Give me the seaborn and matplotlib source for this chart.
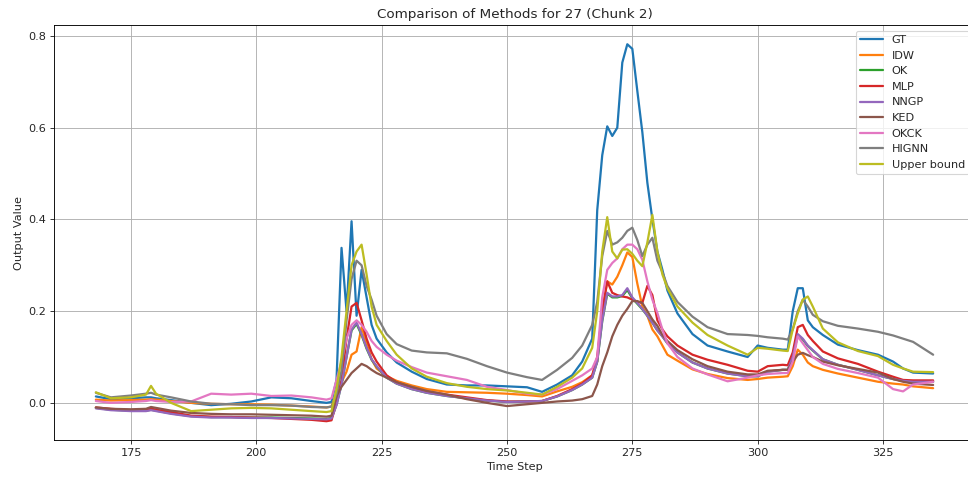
import numpy as np
import pandas as pd
import matplotlib
matplotlib.use("Agg")
import matplotlib.pyplot as plt
import seaborn as sns

time_steps = [168, 171, 175, 178, 179, 180, 183, 187, 191, 195, 199, 203, 207, 211, 214,
              215, 216, 217, 218, 219, 220, 221, 222, 223, 224, 226, 228, 231, 234, 238,
              242, 246, 250, 254, 257, 260, 263, 265, 267,
              268, 269, 270, 271, 272, 273, 274, 275, 276, 277, 278, 279, 280, 281, 282,
              284, 287, 290, 294, 298,
              300, 302, 305, 306, 307, 308, 309, 310, 311, 313, 316, 320, 324, 327, 329, 331, 335]

gt = [0.014, 0.008, 0.010, 0.012, 0.012, 0.010, 0.006, 0.000, -0.005, -0.002, 0.003, 0.012, 0.010, 0.004, 0.000,
      0.002, 0.050, 0.338, 0.200, 0.396, 0.190, 0.290, 0.230, 0.170, 0.140, 0.110, 0.088, 0.068, 0.052, 0.040,
      0.038, 0.038, 0.036, 0.034, 0.024, 0.040, 0.060, 0.090, 0.140,
      0.420, 0.540, 0.603, 0.582, 0.600, 0.742, 0.782, 0.772, 0.680, 0.590, 0.480, 0.400, 0.330, 0.290, 0.245,
      0.195, 0.150, 0.125, 0.112, 0.100,
      0.125, 0.120, 0.116, 0.116, 0.200, 0.250, 0.250, 0.180, 0.165, 0.148, 0.127, 0.115, 0.105, 0.090, 0.075, 0.066, 0.064]

idw = [0.007, 0.005, 0.006, 0.007, 0.008, 0.007, 0.004, 0.000, -0.002, -0.003, -0.003, -0.004, -0.006, -0.008, -0.010,
       -0.008, 0.020, 0.045, 0.068, 0.105, 0.112, 0.165, 0.130, 0.095, 0.075, 0.058, 0.048, 0.038, 0.030, 0.024,
       0.023, 0.022, 0.020, 0.017, 0.014, 0.025, 0.035, 0.045, 0.060,
       0.090, 0.200, 0.265, 0.258, 0.275, 0.300, 0.328, 0.318, 0.260, 0.210, 0.190, 0.160, 0.145, 0.125, 0.105,
       0.092, 0.073, 0.063, 0.054, 0.050,
       0.052, 0.055, 0.057, 0.058, 0.080, 0.116, 0.105, 0.088, 0.080, 0.072, 0.064, 0.055, 0.046, 0.042, 0.040, 0.036, 0.032]

ok = [-0.011, -0.015, -0.017, -0.017, -0.015, -0.017, -0.023, -0.029, -0.031, -0.031, -0.032, -0.032, -0.033, -0.034, -0.035,
      -0.033, -0.004, 0.040, 0.100, 0.158, 0.172, 0.148, 0.118, 0.094, 0.079, 0.055, 0.042, 0.030, 0.022, 0.015,
      0.010, 0.005, 0.002, 0.003, 0.004, 0.014, 0.028, 0.040, 0.055,
      0.090, 0.178, 0.238, 0.230, 0.230, 0.233, 0.246, 0.228, 0.216, 0.204, 0.190, 0.175, 0.158, 0.145, 0.130,
      0.110, 0.088, 0.075, 0.064, 0.058,
      0.058, 0.068, 0.072, 0.072, 0.100, 0.148, 0.138, 0.124, 0.114, 0.095, 0.083, 0.072, 0.060, 0.052, 0.048, 0.046, 0.046]

mlp = [-0.010, -0.013, -0.016, -0.015, -0.012, -0.015, -0.020, -0.028, -0.030, -0.031, -0.032, -0.033, -0.035, -0.037, -0.040,
       -0.038, 0.000, 0.050, 0.140, 0.210, 0.218, 0.180, 0.140, 0.110, 0.090, 0.060, 0.045, 0.032, 0.025, 0.018,
       0.012, 0.006, 0.003, 0.003, 0.004, 0.015, 0.030, 0.042, 0.060,
       0.100, 0.200, 0.265, 0.240, 0.235, 0.232, 0.230, 0.225, 0.220, 0.218, 0.255, 0.235, 0.180, 0.160, 0.145,
       0.125, 0.105, 0.094, 0.083, 0.070,
       0.068, 0.080, 0.083, 0.082, 0.110, 0.165, 0.170, 0.148, 0.135, 0.112, 0.097, 0.085, 0.068, 0.057, 0.050, 0.049, 0.049]

nngp = [-0.012, -0.016, -0.018, -0.018, -0.016, -0.018, -0.024, -0.030, -0.032, -0.032, -0.033, -0.033, -0.034, -0.035, -0.036,
        -0.034, -0.005, 0.040, 0.100, 0.160, 0.175, 0.150, 0.120, 0.095, 0.080, 0.055, 0.042, 0.030, 0.022, 0.015,
        0.010, 0.005, 0.002, 0.003, 0.004, 0.014, 0.028, 0.040, 0.055,
        0.090, 0.180, 0.240, 0.232, 0.232, 0.235, 0.250, 0.230, 0.218, 0.205, 0.190, 0.175, 0.158, 0.145, 0.130,
        0.110, 0.088, 0.075, 0.064, 0.058,
        0.058, 0.068, 0.072, 0.072, 0.100, 0.150, 0.140, 0.125, 0.115, 0.095, 0.083, 0.072, 0.060, 0.052, 0.048, 0.046, 0.046]

ked = [-0.010, -0.013, -0.014, -0.013, -0.009, -0.011, -0.017, -0.022, -0.024, -0.025, -0.025, -0.026, -0.027, -0.028, -0.030,
       -0.028, 0.015, 0.035, 0.050, 0.065, 0.075, 0.085, 0.080, 0.072, 0.065, 0.055, 0.045, 0.035, 0.026, 0.018,
       0.008, 0.000, -0.007, -0.003, 0.000, 0.003, 0.005, 0.008, 0.015,
       0.040, 0.080, 0.110, 0.145, 0.170, 0.190, 0.205, 0.222, 0.222, 0.218, 0.200, 0.182, 0.168, 0.148, 0.135,
       0.115, 0.095, 0.080, 0.068, 0.062,
       0.062, 0.070, 0.072, 0.072, 0.090, 0.105, 0.109, 0.104, 0.100, 0.090, 0.082, 0.074, 0.066, 0.052, 0.046, 0.042, 0.039]

okck = [0.004, 0.000, 0.002, 0.004, 0.006, 0.004, 0.002, 0.003, 0.020, 0.018, 0.020, 0.015, 0.016, 0.012, 0.007,
        0.010, 0.050, 0.090, 0.140, 0.170, 0.180, 0.170, 0.155, 0.135, 0.122, 0.105, 0.092, 0.078, 0.066, 0.058,
        0.050, 0.035, 0.028, 0.020, 0.018, 0.030, 0.048, 0.060, 0.075,
        0.100, 0.230, 0.290, 0.305, 0.315, 0.335, 0.345, 0.345, 0.335, 0.312, 0.265, 0.225, 0.196, 0.160, 0.130,
        0.100, 0.075, 0.062, 0.047, 0.055,
        0.060, 0.063, 0.065, 0.065, 0.090, 0.145, 0.130, 0.115, 0.100, 0.085, 0.074, 0.065, 0.055, 0.030, 0.025, 0.040, 0.046]

hignn = [0.022, 0.012, 0.016, 0.020, 0.022, 0.018, 0.012, 0.003, -0.002, -0.003, -0.005, -0.005, -0.006, -0.009, -0.010,
         -0.008, 0.020, 0.070, 0.180, 0.270, 0.310, 0.300, 0.255, 0.225, 0.190, 0.150, 0.128, 0.114, 0.110, 0.108,
         0.096, 0.080, 0.066, 0.056, 0.050, 0.072, 0.098, 0.125, 0.170,
         0.220, 0.320, 0.375, 0.345, 0.350, 0.360, 0.375, 0.382, 0.355, 0.320, 0.345, 0.360, 0.310, 0.285, 0.255,
         0.220, 0.188, 0.165, 0.150, 0.148,
         0.146, 0.143, 0.140, 0.138, 0.160, 0.200, 0.225, 0.210, 0.192, 0.178, 0.168, 0.162, 0.155, 0.147, 0.140, 0.133, 0.105]

upper = [0.023, 0.010, 0.012, 0.018, 0.037, 0.020, 0.000, -0.018, -0.015, -0.012, -0.011, -0.012, -0.015, -0.018, -0.020,
         -0.018, 0.030, 0.100, 0.200, 0.300, 0.330, 0.345, 0.280, 0.210, 0.170, 0.135, 0.105, 0.075, 0.057, 0.043,
         0.035, 0.030, 0.027, 0.022, 0.018, 0.035, 0.055, 0.075, 0.120,
         0.200, 0.330, 0.405, 0.330, 0.315, 0.334, 0.335, 0.325, 0.310, 0.298, 0.350, 0.410, 0.330, 0.280, 0.250,
         0.210, 0.175, 0.148, 0.125, 0.105,
         0.120, 0.118, 0.114, 0.113, 0.160, 0.195, 0.225, 0.232, 0.210, 0.162, 0.132, 0.113, 0.102, 0.083, 0.075, 0.068, 0.067]

methods = ["GT", "IDW", "OK", "MLP", "NNGP", "KED", "OKCK", "HIGNN", "Upper bound"]
series = [gt, idw, ok, mlp, nngp, ked, okck, hignn, upper]
colors = ["#1f77b4", "#ff7f0e", "#2ca02c", "#d62728", "#9467bd",
          "#8c564b", "#e377c2", "#7f7f7f", "#bcbd22"]

df = pd.DataFrame({"Time Step": time_steps})
for name, vals in zip(methods, series):
    df[name] = vals

sns.set_style("ticks")
plt.rcParams["font.family"] = ["DejaVu Sans"]

DPI = 968 / 12
fig = plt.figure(figsize=(12, 483 / DPI), dpi=DPI)
ax = fig.add_axes([54 / 968, 43 / 483, (975 - 54) / 968, (440 - 25) / 483])

for name, col in zip(methods, colors):
    sns.lineplot(data=df, x="Time Step", y=name, ax=ax, color=col,
                 linewidth=2, label=name)

ax.set_xlim(159.65, 343.35)
ax.set_ylim(-0.081, 0.824)
ax.set_xticks([175, 200, 225, 250, 275, 300, 325])
ax.set_yticks([0.0, 0.2, 0.4, 0.6, 0.8])
ax.grid(True, color="#b0b0b0", linewidth=0.8)
ax.set_title("Comparison of Methods for 27 (Chunk 2)", fontsize=12)
ax.set_xlabel("Time Step", fontsize=10)
ax.set_ylabel("Output Value", fontsize=10)
ax.tick_params(labelsize=10)
for s in ax.spines.values():
    s.set_visible(True)
    s.set_color("black")
    s.set_linewidth(0.8)
ax.legend(loc="upper right", fontsize=10, frameon=True)

fig.savefig("out.png", dpi=DPI)
